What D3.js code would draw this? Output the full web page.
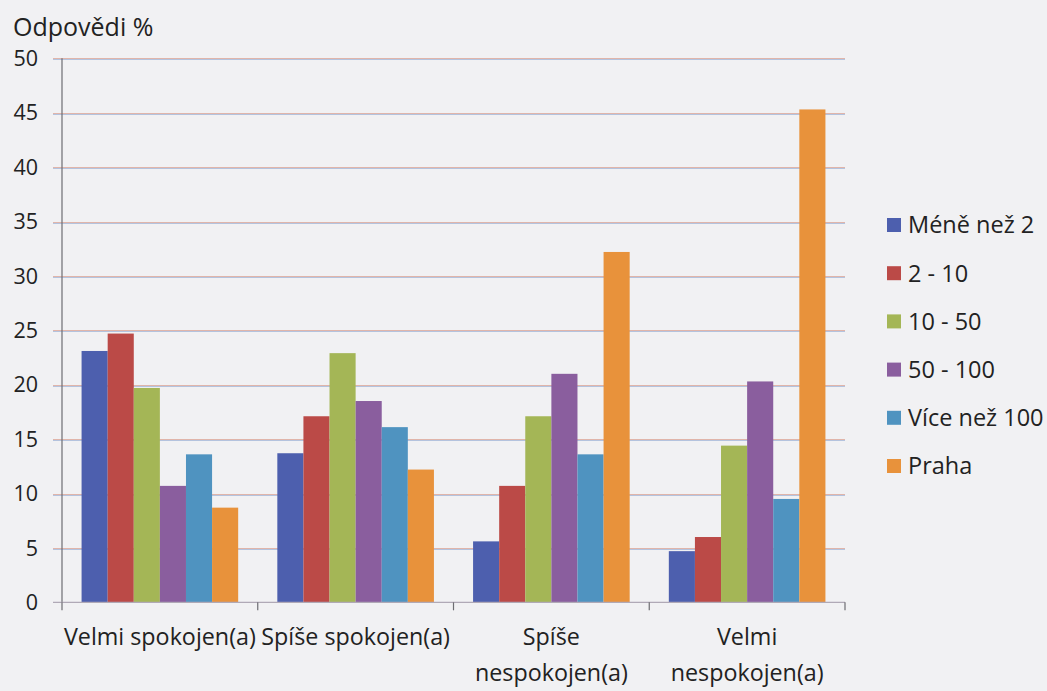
<!DOCTYPE html>
<html>
<head>
<meta charset="utf-8">
<script src="https://cdn.jsdelivr.net/npm/d3@7"></script>
<style>
  body { margin: 0; background: #f1f1f3; }
  svg { display: block; font-family: "Open Sans", sans-serif; }
</style>
</head>
<body>
<svg></svg>
<script>
// data
const categories = [["Velmi spokojen(a)"], ["Spíše spokojen(a)"], ["Spíše", "nespokojen(a)"], ["Velmi", "nespokojen(a)"]];
const seriesNames = ["Méně než 2", "2 - 10", "10 - 50", "50 - 100", "Více než 100", "Praha"];
const seriesColors = ["#4d5fae", "#bb4a47", "#a4b656", "#8a5e9e", "#4f93c0", "#e8923b"];
const menNez2 = [23.1, 13.7, 5.6, 4.7];
const od2do10 = [24.7, 17.1, 10.7, 6.0];
const od10do50 = [19.7, 22.9, 17.1, 14.4];
const od50do100 = [10.7, 18.5, 21.0, 20.3];
const viceNez100 = [13.6, 16.1, 13.6, 9.5];
const praha = [8.7, 12.2, 32.2, 45.3];
const yTicks = [0, 5, 10, 15, 20, 25, 30, 35, 40, 45, 50];

const series = [menNez2, od2do10, od10do50, od50do100, viceNez100, praha];

(function chart() {
  const W = 1047, H = 691;
  const svg = d3.select("svg").attr("width", W).attr("height", H);
  const left = 62, right = 845, top = 58.3, bottom = 602.3;

  const x = d3.scaleBand()
      .domain(d3.range(categories.length))
      .range([left, right])
      .paddingInner(0)
      .paddingOuter(0);
  const inner = d3.scaleBand()
      .domain(d3.range(seriesNames.length))
      .range([0, x.bandwidth()])
      .paddingOuter(0.75)
      .paddingInner(0);
  const y = d3.scaleLinear().domain([0, 50]).range([bottom, top]);

  // gridlines (pink with faint blue shadow as in the scan)
  const grid = svg.append("g");
  grid.selectAll("line.b")
      .data(yTicks.slice(1))
      .join("line")
      .attr("x1", 53).attr("x2", right)
      .attr("y1", d => Math.round(y(d)) + 1.5).attr("y2", d => Math.round(y(d)) + 1.5)
      .attr("stroke", "#b4c3de").attr("stroke-width", 1);
  grid.selectAll("line.p")
      .data(yTicks.slice(1))
      .join("line")
      .attr("x1", 53).attr("x2", right)
      .attr("y1", d => Math.round(y(d)) + 0.5).attr("y2", d => Math.round(y(d)) + 0.5)
      .attr("stroke", "#e0b5aa").attr("stroke-width", 1);

  // bars
  svg.append("g")
    .selectAll("g")
    .data(series)
    .join("g")
      .attr("fill", (d, i) => seriesColors[i])
    .selectAll("rect")
    .data((d, i) => d.map((v, c) => ({v, c, s: i})))
    .join("rect")
      .attr("x", d => x(d.c) + inner(d.s))
      .attr("y", d => y(d.v))
      .attr("width", inner.bandwidth())
      .attr("height", d => y(0) - y(d.v));

  // axes
  svg.append("line")
      .attr("x1", left).attr("x2", left).attr("y1", top).attr("y2", bottom)
      .attr("stroke", "#6d6d72").attr("stroke-width", 1.2);
  svg.append("line")
      .attr("x1", 53).attr("x2", right).attr("y1", bottom).attr("y2", bottom)
      .attr("stroke", "#b0a9b6").attr("stroke-width", 1.3);
  svg.append("g")
    .selectAll("line")
    .data(d3.range(categories.length + 1))
    .join("line")
      .attr("x1", i => i < categories.length ? x(i) : right)
      .attr("x2", i => i < categories.length ? x(i) : right)
      .attr("y1", bottom).attr("y2", bottom + 8)
      .attr("stroke", "#6d6d72").attr("stroke-width", 1.2);

  // y tick labels
  svg.append("g")
    .selectAll("text")
    .data(yTicks)
    .join("text")
      .attr("x", 38)
      .attr("y", d => y(d))
      .attr("dy", "0.36em")
      .attr("text-anchor", "end")
      .attr("fill", "#222")
      .style("font-size", "21.5px")
      .text(d => d);

  svg.append("text")
      .attr("x", 13).attr("y", 36)
      .attr("fill", "#222")
      .style("font-size", "25px")
      .text("Odpovědi %");

  // category labels
  svg.append("g")
    .selectAll("text")
    .data(categories)
    .join("text")
      .attr("x", (d, i) => x(i) + x.bandwidth() / 2)
      .attr("y", 645)
      .attr("text-anchor", "middle")
      .attr("fill", "#222")
      .style("font-size", "23.3px")
    .selectAll("tspan")
    .data(d => d)
    .join("tspan")
      .attr("x", function() { return this.parentNode.getAttribute("x"); })
      .attr("dy", (d, i) => i === 0 ? 0 : 36)
      .text(d => d);

  // legend
  const legend = svg.append("g")
    .selectAll("g")
    .data(seriesNames)
    .join("g")
      .attr("transform", (d, i) => `translate(887, ${225 + i * 48.2})`);
  legend.append("rect")
      .attr("x", 0).attr("y", -7)
      .attr("width", 14).attr("height", 14)
      .attr("fill", (d, i) => seriesColors[i]);
  legend.append("text")
      .attr("x", 21).attr("dy", "0.36em")
      .attr("fill", "#222")
      .style("font-size", "23.5px")
      .text(d => d);
})();
</script>
</body>
</html>
